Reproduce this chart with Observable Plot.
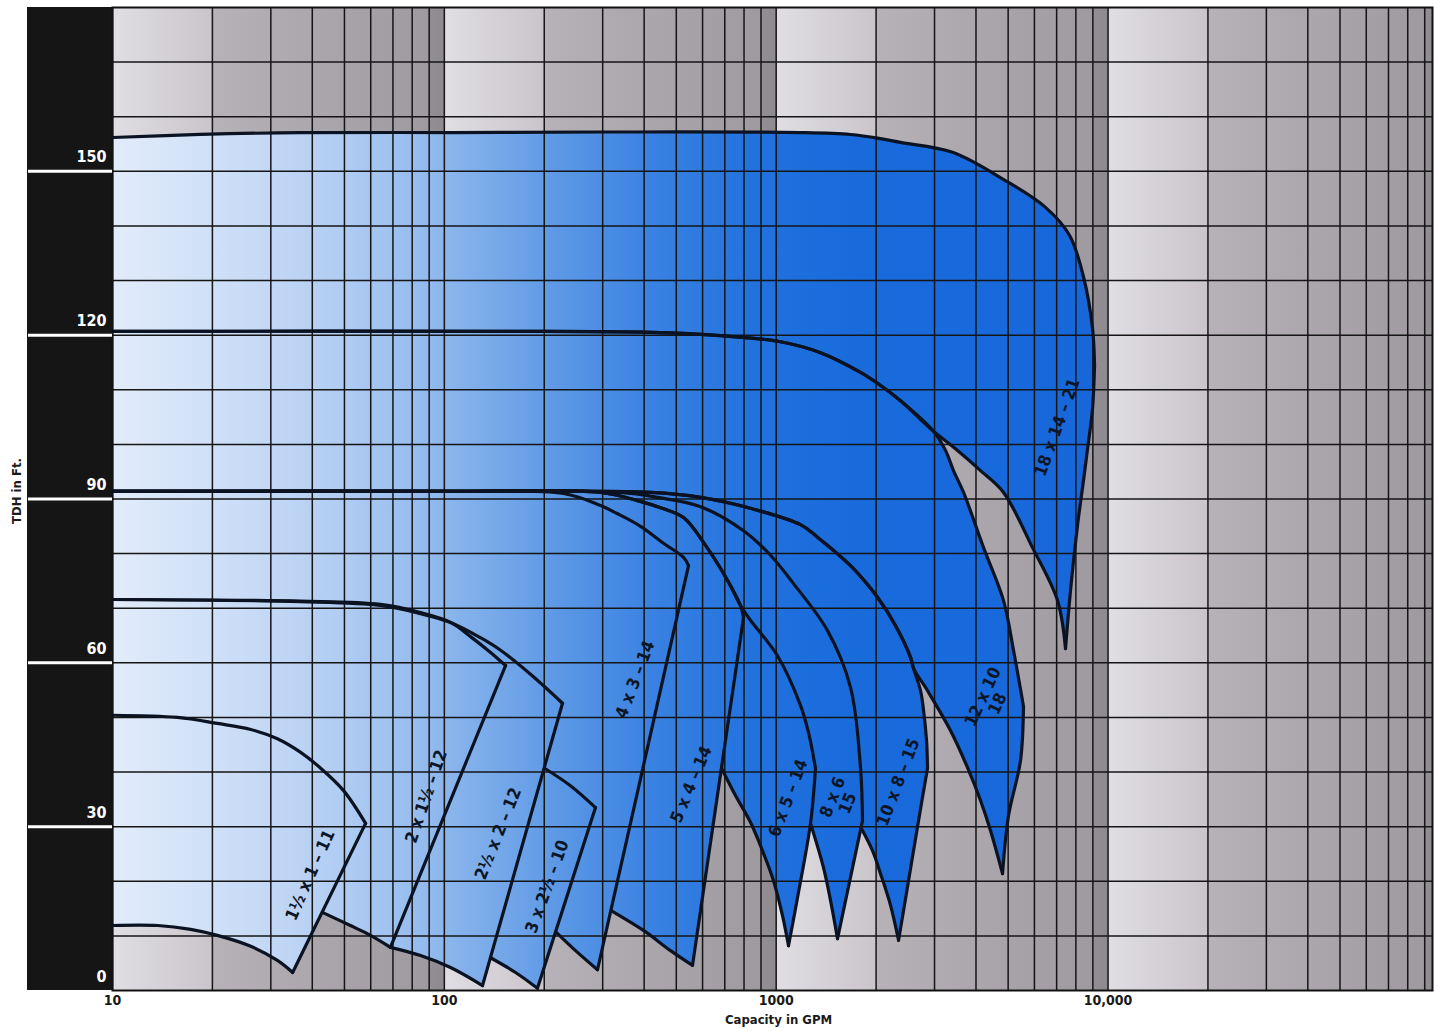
<!DOCTYPE html>
<html><head><meta charset="utf-8">
<script src="https://cdn.jsdelivr.net/npm/d3@7"></script>
<script src="https://cdn.jsdelivr.net/npm/@observablehq/plot@0.6"></script>
<style>
html,body{margin:0;padding:0;background:#fff;}
#chart{width:1439px;height:1031px;}
</style></head><body>
<svg width="0" height="0" style="position:absolute">
<defs>
<linearGradient id="bgGrad" gradientUnits="userSpaceOnUse" x1="112" y1="0" x2="443.85" y2="0" spreadMethod="repeat">
 <stop offset="0" stop-color="#e1dee3"/>
 <stop offset="0.299" stop-color="#c9c5cb"/>
 <stop offset="0.302" stop-color="#b7b2b8"/>
 <stop offset="0.7" stop-color="#a8a2a9"/>
 <stop offset="0.953" stop-color="#9f99a0"/>
 <stop offset="0.956" stop-color="#938d94"/>
 <stop offset="1" stop-color="#8f8990"/>
</linearGradient>
<linearGradient id="blueGrad" gradientUnits="userSpaceOnUse" x1="112" y1="0" x2="1100" y2="0">
 <stop offset="0" stop-color="#e2ecfa"/>
 <stop offset="0.14" stop-color="#c8dbf6"/>
 <stop offset="0.24" stop-color="#aecbf2"/>
 <stop offset="0.342" stop-color="#8ab5ec"/>
 <stop offset="0.443" stop-color="#5f9ae6"/>
 <stop offset="0.545" stop-color="#3a82e2"/>
 <stop offset="0.646" stop-color="#2272de"/>
 <stop offset="0.747" stop-color="#196bdc"/>
 <stop offset="1" stop-color="#1767da"/>
</linearGradient>
</defs></svg>
<div id="chart"></div>
<script>
// ---- axis ticks / grid ----
const xTicks = [10, 100, 1000, 10000];
const xTickLabels = ["10", "100", "1000", "10,000"];
const yTicks = [0, 30, 60, 90, 120, 150];
const yBandLines = [30, 60, 90, 120, 150];
const gridDecades = [10, 100, 1000, 10000];
const gridSteps = [1, 2, 3, 4, 5, 6, 7, 8, 9];
const yGrid = [10, 20, 30, 40, 50, 60, 70, 80, 90, 100, 110, 120, 130, 140, 150, 160, 170];

// ---- pump coverage curves: [capacity GPM, TDH ft] ----
const p1Max = [[10,50.4],[15.7,50.0],[20.7,48.9],[26.1,47.8],[31.4,46.1],[36.9,43.6],[42.4,40.7],[49.7,36.6],[57.9,30.6]];
const p1End = [[57.9,30.6],[34.9,3.3]];
const p1Min = [[10,11.9],[13.7,11.9],[17.2,11.2],[20.7,10.1],[26.1,8.1],[31.4,5.5],[34.9,3.3]];

const p2Max = [[10,71.6],[36.9,71.3],[64.2,70.7],[84.8,69.2],[104.4,67.4],[119.9,64.8],[137.8,61.9],[152.9,59.5]];
const p2End = [[152.9,59.5],[68.8,7.9]];
const p2Min = [[42.9,14.3],[52.1,11.9],[59.9,10.1],[68.8,7.9]];

const p3Max = [[10,71.6],[36.9,71.2],[64.2,70.5],[84.8,69.0],[104.4,67.4],[128.5,64.6],[147.7,62.3],[181.8,57.9],[227.0,52.6]];
const p3End = [[227.0,52.6],[130.3,0.9]];
const p3Min = [[68.8,7.9],[84.8,6.4],[104.4,4.2],[130.3,0.9]];

const p4Max = [[200.4,40.7],[239.9,37.5],[285.4,33.5]];
const p4End = [[285.4,33.5],[190.8,0.4]];
const p4Min = [[137.8,6.0],[163.9,3.3],[190.8,0.4]];

const p5Max = [[10,91.4],[104.4,91.4],[228.6,91.0],[295.4,88.8],[332.5,87.3],[390,85.0],[457.5,81.9],[525.7,79.3],[544.2,77.8]];
const p5End = [[544.2,77.8],[289.4,3.8]];
const p5Min = [[217.8,10.6],[248.5,7.3],[289.4,3.8]];

const p6Max = [[10,91.4],[104.4,91.4],[295.4,91.2],[382,89.7],[448,88.4],[525.7,86.6],[612.4,81.5],[713.3,75.1],[780.6,70.5],[797.1,68.3]];
const p6End = [[797.1,68.3],[559.5,4.6]];
const p6Min = [[318.9,14.6],[398.3,11.0],[480.4,7.3],[559.5,4.6]];

const p7Max = [[10,91.4],[104.4,91.4],[295.4,91.2],[382,89.7],[448,88.4],[525.7,86.6],[612.4,81.5],[713.3,75.1],[780.6,70.5],[836.5,67.8],[1009,61.3],[1183.7,52.2],[1251.6,47.2],[1313.5,40.7]];
const p7End = [[1313.5,40.7],[1268.8,30.6],[1159.3,17.0],[1089.1,8.2]];
const p7Min = [[684.3,40.7],[754,35.7],[836.5,30.8],[909.2,25.6],[981.5,20.1],[1044.7,13.7],[1089.1,8.2]];

const p8Max = [[10,91.4],[104.4,91.4],[339.5,91.2],[438.8,90.3],[591.5,88.6],[797.1,84.2],[961.1,79.7],[1127.5,74.5],[1427.6,65.9],[1674.6,55.5],[1794.7,40.8],[1819.9,31.1]];
const p8End = [[1819.9,31.1],[1530.3,9.5]];
const p8Min = [[1268.8,30.6],[1388.4,22.5],[1457.7,16.5],[1530.3,9.5]];

const p9Max = [[10,91.4],[104.4,91.4],[418.1,91.2],[591.5,90.3],[836.5,88.3],[1183.7,85.3],[1331.9,83.0],[1674.6,77.8],[2019.9,72.0],[2289.1,66.8],[2539.7,61.0],[2593,59.0],[2722.3,54.9],[2779.8,51.3],[2838,45.8],[2857.9,40.7]];
const p9End = [[2857.9,40.7],[2684.7,31.1],[2504.9,20.1],[2337.1,9.2]];
const p9Min = [[1801,29.8],[1951,25.6],[2062.2,21.4],[2210.9,15.6],[2337.1,9.2]];

const p10Max = [[10,120.7],[147.7,120.7],[418.1,120.5],[679.6,119.9],[1030.1,118.8],[1359.9,116.8],[1794.7,113.2],[2019.9,111.2],[2369.7,108.0],[2978.7,102.4],[3237,98.9],[3421.6,95.2],[3668.9,91.2],[4214.9,81.1],[4842.2,71.4],[5188.9,62.3],[5561.5,52.0]];
const p10End = [[5561.5,52.0],[5447.4,42.1],[5011.9,32.0],[4808.9,21.4]];
const p10Min = [[10,91.4],[104.4,91.4],[418.1,91.2],[591.5,90.3],[836.5,88.3],[1183.7,85.3],[1331.9,83.0],[1674.6,77.8],[2019.9,72.0],[2289.1,66.8],[2539.7,61.0],[2593,59.0],[2857.9,54.9],[3351,47.6],[3772.3,40.8],[4127.7,34.8],[4423.2,29.3],[4808.9,21.4]];

const p11Max = [[10,156.2],[18.4,156.75],[36.9,157.1],[104.4,157.1],[295.4,157.2],[1183.7,157.1],[1674.6,156.75],[2062.2,156.0],[2369.7,155.3],[3398,153.5],[4876.2,148.4],[6479,143.4],[7652,138.3],[8433,130.7],[8980,121.2],[9106,114.4]];
const p11End = [[9106,114.4],[8980,106.6],[8671,99.1],[8433,93.4],[8089,85.1],[7706,73.2],[7444,62.6]];
const p11Min = [[10,120.7],[147.7,120.7],[418.1,120.5],[679.6,119.9],[1030.1,118.8],[1359.9,116.8],[1794.7,113.2],[2019.9,111.2],[2369.7,108.0],[2978.7,102.4],[3469.6,99.2],[4127.7,95.2],[4842.2,91.2],[5920,81.1],[7042,71.4],[7444,62.6]];

// ---- pump labels ----
const labelText = ["1½ x 1 – 11", "2 x 1½ – 12", "2½ x 2 – 12", "3 x 2½ – 10", "4 x 3 – 14", "5 x 4 – 14", "6 x 5 – 14", "8 x 6\n15", "10 x 8 – 15", "12 x 10\n18", "18 x 14 – 21"];
const labelQ = [39.5, 88.4, 145.6, 204.6, 376.7, 555.7, 1089, 1562, 2337, 4423, 7042];
const labelH = [21.1, 35.5, 28.7, 19.0, 56.9, 37.7, 35.2, 34.8, 38.1, 53.1, 103.1];
const labelAngle = [-66, -71, -68, -70, -69, -67, -69, -68, -69, -65, -70];

// ---- build tables ----
const pumps = [
  {id: "1.5x1", max: p1Max, end: p1End, min: p1Min},
  {id: "2x1.5", max: p2Max, end: p2End, min: p2Min},
  {id: "2.5x2", max: p3Max, end: p3End, min: p3Min},
  {id: "3x2.5", max: p4Max, end: p4End, min: p4Min},
  {id: "4x3", max: p5Max, end: p5End, min: p5Min},
  {id: "5x4", max: p6Max, end: p6End, min: p6Min},
  {id: "6x5", max: p7Max, end: p7End, min: p7Min},
  {id: "8x6", max: p8Max, end: p8End, min: p8Min},
  {id: "10x8", max: p9Max, end: p9End, min: p9Min},
  {id: "12x10", max: p10Max, end: p10End, min: p10Min},
  {id: "18x14", max: p11Max, end: p11End, min: p11Min}
];

function fillPoly(i) {
  const p = pumps[i];
  const pts = [...p.max, ...p.end.slice(1), ...p.min.slice(0, -1).reverse()];
  if (p.min[0][0] > 10.001) {
    for (let j = i - 1; j >= 0; j--) {
      pts.push(...pumps[j].max.slice().reverse());
      if (pumps[j].max[0][0] <= 10.001) break;
    }
  }
  return pts;
}
const rows = (id, pts) => pts.map(([q, h]) => ({id, q, h}));
const fillRows = pumps.flatMap((p, i) => rows(p.id, fillPoly(i)));
const strokeRows = pumps.flatMap(p => [
  ...rows(p.id + ":max", p.max),
  ...rows(p.id + ":end", p.end),
  ...rows(p.id + ":min", p.min)
]);
const labelRows = labelText.map((t, i) => ({text: t, q: labelQ[i], h: labelH[i], a: labelAngle[i]}));
const xGrid = gridDecades.flatMap(d => gridSteps.map(s => d * s));

const FONT = '"Liberation Sans Narrow", "Arial Narrow", "DejaVu Sans Condensed", sans-serif';

const svg = Plot.plot({
  width: 1439, height: 1031,
  marginLeft: 112, marginRight: 7, marginTop: 7, marginBottom: 41,
  style: {fontFamily: FONT, fontWeight: "bold", background: "transparent", overflow: "visible"},
  x: {type: "log", domain: [10, 95000]},
  y: {domain: [0, 180]},
  marks: [
    Plot.frame({fill: "url(#bgGrad)", stroke: "none"}),
    Plot.line(fillRows, {x: "q", y: "h", z: "id", fill: "url(#blueGrad)", stroke: "none"}),
    Plot.ruleX(xGrid, {stroke: "#151515", strokeWidth: 1.5}),
    Plot.ruleY(yGrid, {stroke: "#151515", strokeWidth: 1.5}),
    Plot.frame({stroke: "#111", strokeWidth: 2}),
    Plot.line(strokeRows, {x: "q", y: "h", z: "id", stroke: "#0b1322", strokeWidth: 3.2, curve: "catmull-rom"}),
    Plot.text(labelRows, {x: "q", y: "h", text: "text", rotate: "a", fontSize: 17, fontWeight: "bold", fill: "#0c1626", lineHeight: 0.95, fontFamily: FONT}),
    Plot.axisY({ticks: yBandLines, tickSize: 84, stroke: "white", strokeWidth: 3, tickFormat: () => "", label: null}),
    Plot.axisY({ticks: yTicks, tickSize: 0, tickPadding: 6, dy: -14, fill: "white", fontSize: 16, fontWeight: "bold", fontFamily: FONT, label: null}),
    Plot.axisX({ticks: xTicks, tickFormat: d => xTickLabels[xTicks.indexOf(d)], tickSize: 0, tickPadding: 5, fontSize: 14, fontWeight: "bold", fill: "#1a1a1a", fontFamily: FONT, label: null}),
    Plot.text(["Capacity in GPM"], {frameAnchor: "bottom", dx: 6, dy: 29, textAnchor: "middle", lineAnchor: "middle", fontSize: 13, fontWeight: "bold", fill: "#1a1a1a", fontFamily: FONT}),
    Plot.text(["TDH in Ft."], {frameAnchor: "left", dx: -96, dy: -8, rotate: -90, textAnchor: "middle", lineAnchor: "middle", fontSize: 13, fontWeight: "bold", fill: "#1a1a1a", fontFamily: FONT})
  ]
});

// black band behind the y axis
const ns = "http://www.w3.org/2000/svg";
const band = document.createElementNS(ns, "rect");
band.setAttribute("x", 27); band.setAttribute("y", 7);
band.setAttribute("width", 85); band.setAttribute("height", 983);
band.setAttribute("fill", "#151515");
svg.insertBefore(band, svg.firstChild);
document.getElementById("chart").appendChild(svg);
</script>
</body></html>
